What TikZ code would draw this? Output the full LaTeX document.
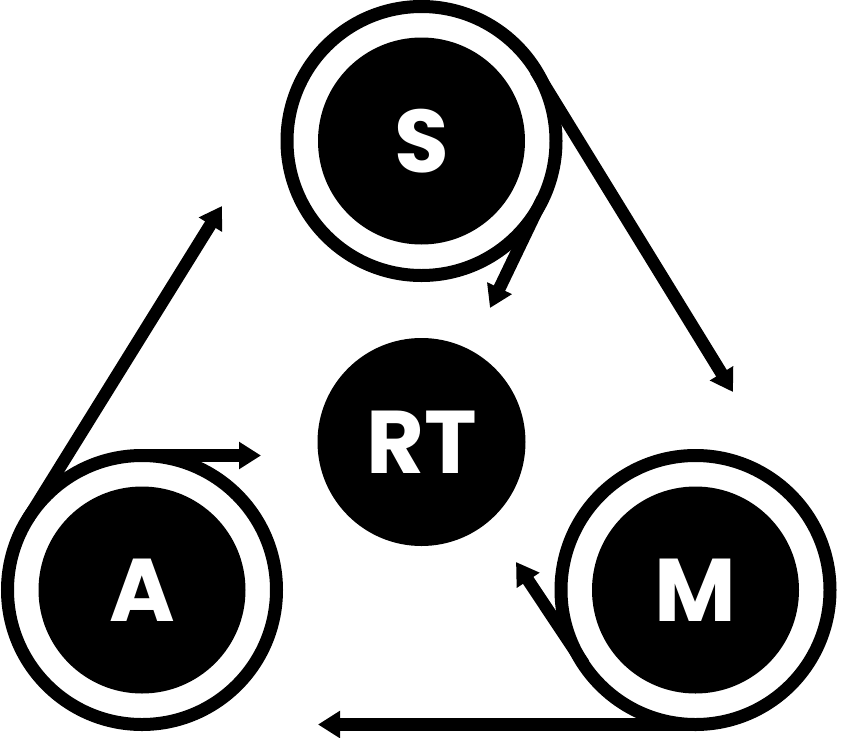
\documentclass[tikz,border=0pt]{standalone}
\usepackage{fontspec}
\setmainfont{Poppins}
\usetikzlibrary{arrows.meta}
\begin{document}
\begin{tikzpicture}[x=1pt,y=-1pt,
  disk/.style={circle, fill=black, minimum size=207pt, inner sep=0pt, text=white,
    font=\fontsize{89}{89}\selectfont\bfseries},
  ring/.style={circle, draw=black, line width=13pt, minimum size=269pt, inner sep=0pt},
  flow/.style={line width=12.5pt, -{Triangle[length=22pt,width=26pt]}}
]
\useasboundingbox (0,0) rectangle (841,737);
% nodes
\node[disk] (S) at (421.5,141) {S};
\node[ring] (Sring) at (421.5,141) {};
\node[disk] (A) at (142,590) {A};
\node[ring] (Aring) at (142,590) {};
\node[disk] (M) at (695.5,590) {M};
\node[ring] (Mring) at (695.5,590) {};
\node[disk, minimum size=208pt] (RT) at (421.5,442) {RT};
% tangent points and tips
\coordinate (SM0) at (535.7,70.9);
\coordinate (SMtip) at (733,392);
\coordinate (SR0) at (542.4,198.9);
\coordinate (SRtip) at (490,308);
\coordinate (MR0) at (583.9,664.1);
\coordinate (MRtip) at (516,562);
\coordinate (MA0) at (695.5,724.5);
\coordinate (MAtip) at (318,724.5);
\coordinate (AR0) at (142,455.5);
\coordinate (ARtip) at (261,455.5);
\coordinate (AS0) at (27.7,519.1);
\coordinate (AStip) at (222,206);
% connectors
\draw[flow] (SM0) -- (SMtip);
\draw[flow] (SR0) -- (SRtip);
\draw[flow] (MR0) -- (MRtip);
\draw[flow] (MA0) -- (MAtip);
\draw[flow] (AR0) -- (ARtip);
\draw[flow] (AS0) -- (AStip);
\end{tikzpicture}
\end{document}
